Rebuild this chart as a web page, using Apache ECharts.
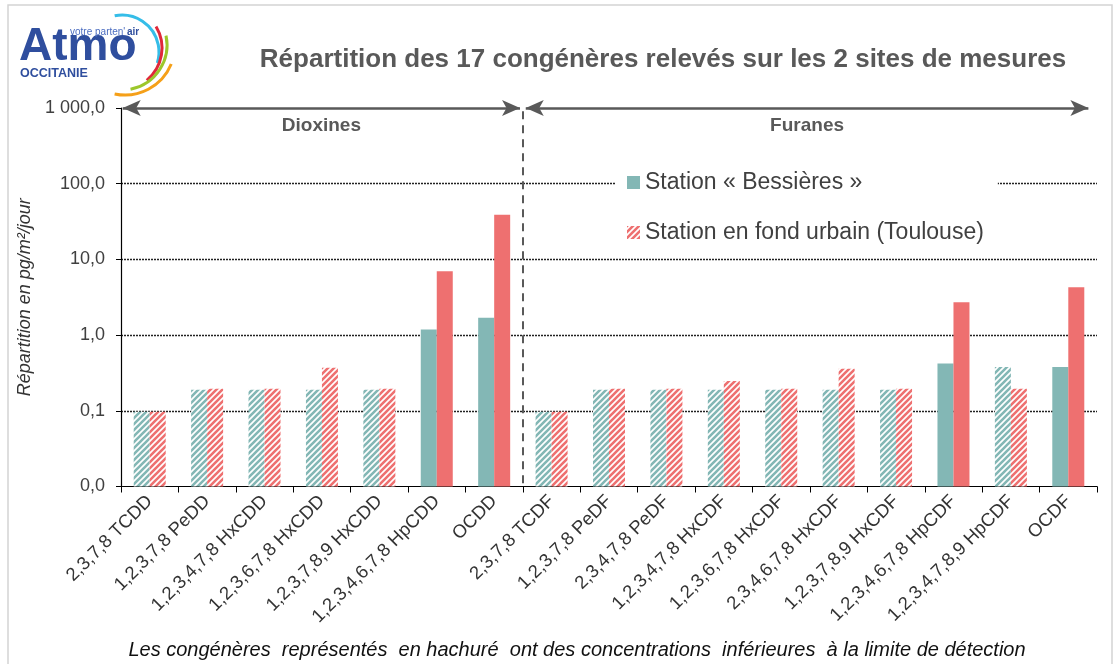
<!DOCTYPE html>
<html><head><meta charset="utf-8">
<script src="https://cdn.jsdelivr.net/npm/echarts@6/dist/echarts.min.js"></script>
<style>html,body{margin:0;padding:0;background:#fff}#c{width:1119px;height:664px}</style>
</head><body><div id="c"></div>
<script>
const categories = ['2,3,7,8 TCDD','1,2,3,7,8 PeDD','1,2,3,4,7,8 HxCDD','1,2,3,6,7,8 HxCDD','1,2,3,7,8,9 HxCDD','1,2,3,4,6,7,8 HpCDD','OCDD',
  '2,3,7,8 TCDF','1,2,3,7,8 PeDF','2,3,4,7,8 PeDF','1,2,3,4,7,8 HxCDF','1,2,3,6,7,8 HxCDF','2,3,4,6,7,8 HxCDF','1,2,3,7,8,9 HxCDF','1,2,3,4,6,7,8 HpCDF','1,2,3,4,7,8,9 HpCDF','OCDF'];
const bessieres = [0.097,0.19,0.19,0.19,0.19,1.19,1.69, 0.097,0.19,0.19,0.19,0.19,0.19,0.19,0.42,0.38,0.38];
const toulouse  = [0.097,0.195,0.195,0.37,0.195,7.0,39, 0.097,0.195,0.195,0.248,0.195,0.36,0.195,2.72,0.195,4.3];
// 1 = below detection limit (hatched)
const hatchedBessieres = [1,1,1,1,1,0,0, 1,1,1,1,1,1,1,0,1,0];
const hatchedToulouse  = [1,1,1,1,1,0,0, 1,1,1,1,1,1,1,0,1,0];
const yTicks = [0.01,0.1,1,10,100,1000];
const seriesNames = ['Station « Bessières »','Station en fond urbain (Toulouse)'];
const groups = [{name:'Dioxines', from:0, to:7},{name:'Furanes', from:7, to:17}];

const TEAL='#83B7B5', RED='#EE7070';
function hatch(color){
  const s=6, c=document.createElement('canvas'); c.width=s; c.height=s;
  const g=c.getContext('2d'); g.fillStyle='#fff'; g.fillRect(0,0,s,s);
  g.strokeStyle=color; g.lineWidth=2.6; g.beginPath();
  g.moveTo(-1,s+1); g.lineTo(s+1,-1);
  g.moveTo(-1,1); g.lineTo(1,-1);
  g.moveTo(s-1,s+1); g.lineTo(s+1,s-1);
  g.stroke(); return {image:c, repeat:'repeat'};
}
const hT=hatch(TEAL), hR=hatch(RED);
function fmt(v){
  const s=(Math.round(v*10)/10).toFixed(1).split('.');
  return s[0].replace(/\B(?=(\d{3})+(?!\d))/g,' ')+','+s[1];
}
const FONT="'Liberation Sans', Arial, sans-serif";
const chart=echarts.init(document.getElementById('c'),null,{renderer:'canvas'});
chart.setOption({
  animation:false,
  textStyle:{fontFamily:FONT},
  title:{text:'Répartition des 17 congénères relevés sur les 2 sites de mesures',left:658,textAlign:'center',top:42,
    textStyle:{fontFamily:FONT,fontSize:26,fontWeight:'bold',color:'#595959'}},
  grid:{left:121,right:22,top:108,bottom:177.5,containLabel:false},
  legend:{orient:'vertical',left:615,top:163,itemWidth:13,itemHeight:13,itemGap:27,icon:'rect',
    backgroundColor:'#fff',padding:[8,14,8,12],
    textStyle:{fontSize:23,color:'#404040',fontFamily:FONT},
    data:[{name:seriesNames[0],itemStyle:{color:TEAL}},{name:seriesNames[1],itemStyle:{color:hR}}]},
  xAxis:[{type:'category',data:categories,boundaryGap:true,
    axisLine:{lineStyle:{color:'#000',width:1.2}},
    axisTick:{show:true,alignWithLabel:false,length:6,lineStyle:{color:'#000'}},
    axisLabel:{rotate:45,fontSize:18.5,color:'#333',interval:0,margin:12,fontFamily:FONT},
    splitLine:{show:false}},
    {type:'value',min:0,max:17,show:false}],
  yAxis:{type:'log',logBase:10,min:0.01,max:1000,interval:1,startValue:0.01,
    name:'Répartition en pg/m²/jour',nameLocation:'middle',nameGap:78,
    nameTextStyle:{fontStyle:'italic',fontSize:18,color:'#333',fontFamily:FONT},
    axisLine:{show:true,lineStyle:{color:'#000',width:1.2}},
    axisTick:{show:true,length:5,lineStyle:{color:'#000'}},
    axisLabel:{fontSize:18,color:'#404040',margin:16,formatter:v=>fmt(v),fontFamily:FONT},
    splitLine:{show:true,showMinLine:false,showMaxLine:false,lineStyle:{color:'#222',type:[2,1],width:1.4}}},
  series:[
    {name:seriesNames[0],type:'bar',barWidth:16,barGap:'0%',itemStyle:{color:TEAL},
      data:bessieres.map((v,i)=>({value:v,itemStyle:{color:hatchedBessieres[i]?hT:TEAL}}))},
    {name:seriesNames[1],type:'bar',barWidth:16,barGap:'0%',itemStyle:{color:hR},
      data:toulouse.map((v,i)=>({value:v,itemStyle:{color:hatchedToulouse[i]?hR:RED}}))},
    {name:'annot',type:'line',xAxisIndex:1,yAxisIndex:0,data:[],silent:true,
      markLine:{silent:true,symbol:['arrow','arrow'],symbolSize:[12,18],
        lineStyle:{color:'#595959',width:2.5,type:'solid'},
        label:{show:true,position:'insideMiddleBottom',distance:[0,8],fontSize:19,fontWeight:'bold',color:'#595959',fontFamily:FONT,formatter:p=>p.name},
        data:[
          [{name:groups[0].name,coord:[groups[0].from+0.03,1000]},{coord:[groups[0].to-0.05,1000]}],
          [{name:groups[1].name,coord:[groups[1].from+0.05,1000]},{coord:[groups[1].to-0.15,1000]}],
          [{name:'',coord:[groups[0].to,0.011],symbol:'none',lineStyle:{type:[8,6],width:2,color:'#595959'},label:{show:false}},
           {coord:[groups[0].to,1000],symbol:'none'}]
        ]}}
  ],
  graphic:[
    {type:'rect',shape:{x:8,y:5,width:1104,height:680},style:{fill:'none',stroke:'#d4d4d4',lineWidth:1.5},silent:true},
    {type:'text',style:{text:'Les congénères  représentés  en hachuré  ont des concentrations  inférieures  à la limite de détection',
      x:577,y:650,textAlign:'center',textVerticalAlign:'middle',font:"italic 20px 'Liberation Sans', Arial, sans-serif",fill:'#111'}},
    {type:'text',style:{text:'Atmo',x:19,y:24,font:"bold 46px 'Liberation Sans', Arial, sans-serif",fill:'#2F4E9E'}},
    {type:'text',style:{text:"votre parten'",x:70,y:27,font:"10px 'Liberation Sans', Arial, sans-serif",fill:'#4A6CC0'}},
    {type:'text',style:{text:'air',x:127,y:27,font:"bold 10px 'Liberation Sans', Arial, sans-serif",fill:'#2F4E9E'}},
    {type:'text',style:{text:'OCCITANIE',x:20,y:67,font:"bold 12.5px 'Liberation Sans', Arial, sans-serif",fill:'#2F4E9E'}},
    {type:'arc',shape:{cx:122,cy:52,r:37,startAngle:-1.77,endAngle:0.3},style:{stroke:'#35BDE8',lineWidth:3,fill:'none'}},
    {type:'arc',shape:{cx:120,cy:48,r:42,startAngle:-0.54,endAngle:0.88},style:{stroke:'#E0283A',lineWidth:3,fill:'none'}},
    {type:'arc',shape:{cx:122,cy:45,r:45,startAngle:-0.21,endAngle:1.38},style:{stroke:'#9CC72B',lineWidth:3,fill:'none'}},
    {type:'arc',shape:{cx:125,cy:45,r:50,startAngle:0.39,endAngle:1.78},style:{stroke:'#F5A019',lineWidth:3,fill:'none'}}
  ]
});
</script></body></html>
